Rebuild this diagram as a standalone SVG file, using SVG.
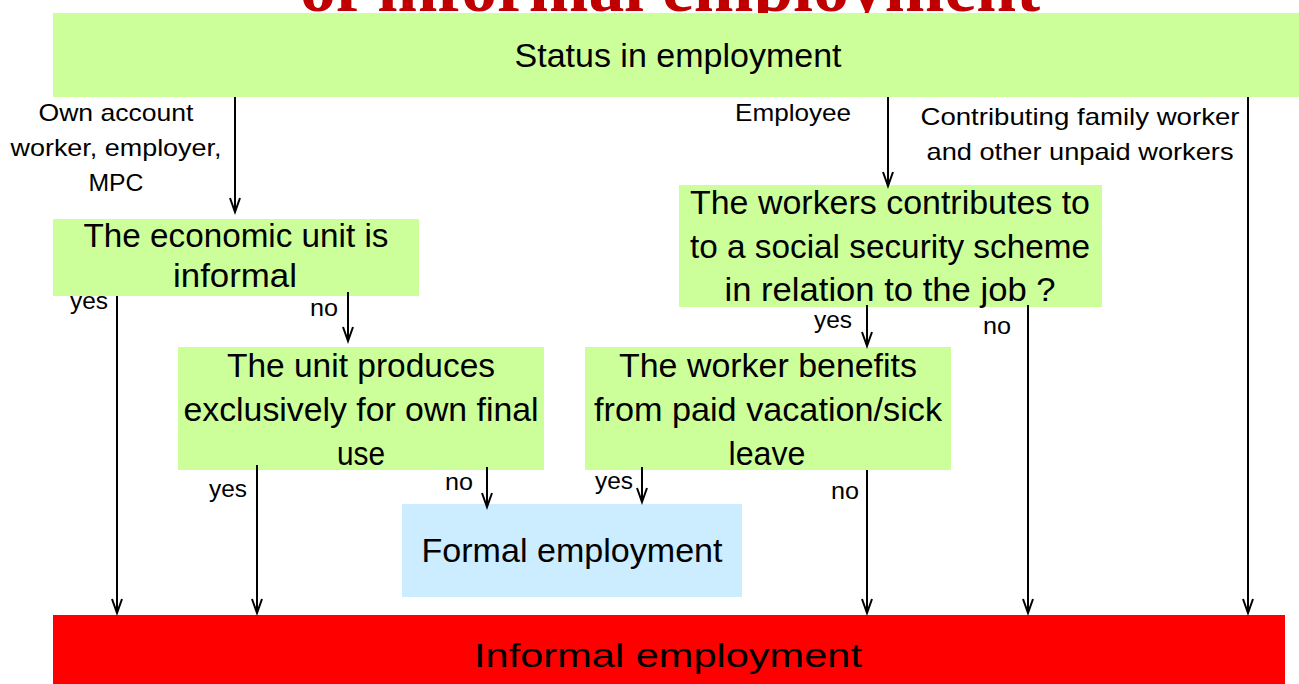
<svg xmlns="http://www.w3.org/2000/svg" width="1299" height="684" viewBox="0 0 1299 684">
<style>
.title{font-family:"Liberation Serif",serif;font-weight:bold;fill:#C00000;font-size:72px}
.box{fill:#CCFF99}
.bt{font-family:"Liberation Sans",Arial,sans-serif;font-size:33px;fill:#000;text-anchor:middle}
.lb{font-family:"Liberation Sans",Arial,sans-serif;font-size:24px;fill:#000;text-anchor:middle}
.cn line{stroke:#000;stroke-width:2;marker-end:url(#ah)}
</style>
<defs>
<marker id="ah" markerUnits="userSpaceOnUse" viewBox="-16 -7 18 14" markerWidth="18" markerHeight="14" refX="0" refY="0" orient="auto" overflow="visible">
<path d="M-14,-5 L0,0 L-14,5" fill="none" stroke="#000" stroke-width="2"/>
</marker>
</defs>
<rect width="1299" height="684" fill="#fff"/>
<text class="title" x="300" y="11" textLength="740" lengthAdjust="spacingAndGlyphs">of informal employment</text>

<g id="status">
<rect class="box" x="53" y="13" width="1246" height="84"/>
<text class="bt" x="678" y="67" font-size="34" textLength="327" lengthAdjust="spacingAndGlyphs">Status in employment</text>
</g>

<g id="econ">
<rect class="box" x="53" y="219" width="366" height="77"/>
<text class="bt" x="236" y="247" textLength="305" lengthAdjust="spacingAndGlyphs">The economic unit is</text>
<text class="bt" x="235" y="287" textLength="124" lengthAdjust="spacingAndGlyphs">informal</text>
</g>

<g id="contrib">
<rect class="box" x="679" y="185" width="423" height="122"/>
<text class="bt" x="890" y="214" textLength="400" lengthAdjust="spacingAndGlyphs">The workers contributes to</text>
<text class="bt" x="890" y="258" textLength="400" lengthAdjust="spacingAndGlyphs">to a social security scheme</text>
<text class="bt" x="890" y="301" textLength="331" lengthAdjust="spacingAndGlyphs">in relation to the job ?</text>
</g>

<g id="ownuse">
<rect class="box" x="178" y="347" width="366" height="123"/>
<text class="bt" x="361" y="377" textLength="268" lengthAdjust="spacingAndGlyphs">The unit produces</text>
<text class="bt" x="361" y="421" textLength="355" lengthAdjust="spacingAndGlyphs">exclusively for own final</text>
<text class="bt" x="361" y="465" textLength="48" lengthAdjust="spacingAndGlyphs">use</text>
</g>

<g id="benefits">
<rect class="box" x="585" y="347" width="366" height="123"/>
<text class="bt" x="768" y="377" textLength="298" lengthAdjust="spacingAndGlyphs">The worker benefits</text>
<text class="bt" x="768" y="421" textLength="348" lengthAdjust="spacingAndGlyphs">from paid vacation/sick</text>
<text class="bt" x="767" y="465" textLength="77" lengthAdjust="spacingAndGlyphs">leave</text>
</g>

<g id="formal">
<rect x="402" y="504" width="340" height="93" fill="#CCECFF"/>
<text class="bt" x="572" y="562" textLength="301" lengthAdjust="spacingAndGlyphs">Formal employment</text>
</g>

<g id="informal">
<rect x="53" y="615" width="1232" height="69" fill="#FF0000"/>
<text class="bt" x="668" y="667" font-size="38" textLength="388" lengthAdjust="spacingAndGlyphs">Informal employment</text>
</g>

<g id="labels">
<text class="lb" x="116" y="121" textLength="155" lengthAdjust="spacingAndGlyphs">Own account</text>
<text class="lb" x="116" y="156" textLength="211" lengthAdjust="spacingAndGlyphs">worker, employer,</text>
<text class="lb" x="116" y="191" textLength="55" lengthAdjust="spacingAndGlyphs">MPC</text>
<text class="lb" x="793" y="121" textLength="116" lengthAdjust="spacingAndGlyphs">Employee</text>
<text class="lb" x="1080" y="125" textLength="319" lengthAdjust="spacingAndGlyphs">Contributing family worker</text>
<text class="lb" x="1080" y="160" textLength="307" lengthAdjust="spacingAndGlyphs">and other unpaid workers</text>
<text class="lb" x="89" y="309" textLength="38" lengthAdjust="spacingAndGlyphs">yes</text>
<text class="lb" x="324" y="316" textLength="28" lengthAdjust="spacingAndGlyphs">no</text>
<text class="lb" x="833" y="328" textLength="38" lengthAdjust="spacingAndGlyphs">yes</text>
<text class="lb" x="997" y="334" textLength="28" lengthAdjust="spacingAndGlyphs">no</text>
<text class="lb" x="228" y="497" textLength="38" lengthAdjust="spacingAndGlyphs">yes</text>
<text class="lb" x="459" y="490" textLength="28" lengthAdjust="spacingAndGlyphs">no</text>
<text class="lb" x="614" y="489" textLength="38" lengthAdjust="spacingAndGlyphs">yes</text>
<text class="lb" x="845" y="499" textLength="28" lengthAdjust="spacingAndGlyphs">no</text>
</g>

<g id="connectors" class="cn">
<line x1="235" y1="97" x2="235" y2="212"/>
<line x1="117" y1="296" x2="117" y2="613"/>
<line x1="348" y1="292" x2="348" y2="341"/>
<line x1="257" y1="465" x2="257" y2="613"/>
<line x1="487" y1="467" x2="487" y2="507"/>
<line x1="642" y1="467" x2="642" y2="502"/>
<line x1="867" y1="470" x2="867" y2="613"/>
<line x1="888" y1="97" x2="888" y2="186"/>
<line x1="867" y1="305" x2="867" y2="346"/>
<line x1="1028" y1="305" x2="1028" y2="613"/>
<line x1="1248" y1="97" x2="1248" y2="613"/>
</g>
</svg>
